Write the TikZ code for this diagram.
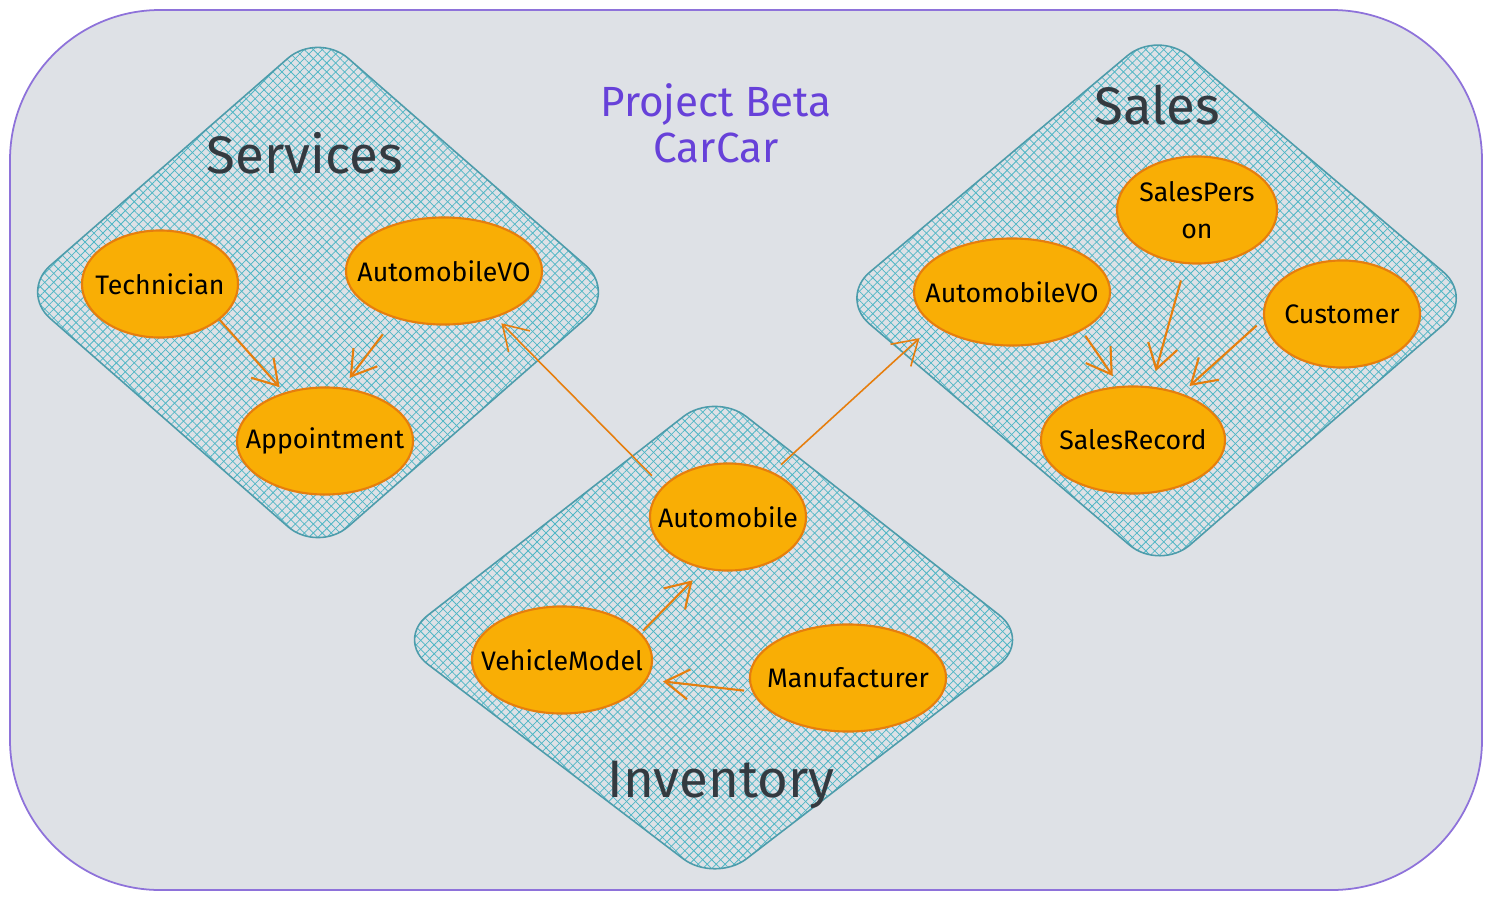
\documentclass[tikz,border=0pt]{standalone}
\usepackage{fontspec}
\setmainfont{Fira Sans}
\usetikzlibrary{shapes.geometric,arrows.meta,patterns.meta}

\definecolor{canvas}{HTML}{DEE1E6}
\definecolor{frameline}{HTML}{8E72DA}
\definecolor{zoneline}{HTML}{4D9CAB}
\definecolor{hatch}{HTML}{4FB6C5}
\definecolor{entityfill}{HTML}{F9AE05}
\definecolor{entityline}{HTML}{E67E0E}
\definecolor{titlegray}{HTML}{343A40}
\definecolor{projectviolet}{HTML}{6741D9}

\begin{document}
\begin{tikzpicture}[x=0.01cm,y=-0.01cm,
    zone/.style={draw=zoneline,line width=0.45pt,rounded corners=0.4cm,
      preaction={pattern={Lines[angle=45,distance=1.8pt,line width=0.22pt]},pattern color=hatch},
      pattern={Lines[angle=-45,distance=1.8pt,line width=0.22pt]},pattern color=hatch},
    entity/.style={ellipse,draw=entityline,fill=entityfill,line width=0.6pt,
      minimum height=1.07cm,inner sep=-0.5cm,font=\fontsize{7.6}{10.5}\selectfont},
    zonetitle/.style={text=titlegray,font=\fontsize{15}{18}\selectfont},
    link/.style={draw=entityline,line width=0.6pt,-{Straight Barb[length=0.24cm,width=0.3cm]}}]
            % frame
            \fill[white] (0,0) rectangle (1491,900);
            \draw[frameline,fill=canvas,line width=0.5pt,rounded corners=1.5cm] (10,10) rectangle (1482,890);
            \node[text=projectviolet,font=\fontsize{12}{13}\selectfont,align=center] (project) at (716,123) {Project Beta\\CarCar};
            % bounded contexts
            \path[zone] (318,32) -- (616,292) -- (318,553) -- (20,292) -- cycle;
            \path[zone] (1158,30) -- (1474,298) -- (1160,571) -- (839,298) -- cycle;
            \path[zone] (715,392) -- (1031,640) -- (715,883) -- (396,640) -- cycle;
            \node[zonetitle] (services) at (305,153) {Services};
            \node[zonetitle] (sales) at (1157,105) {Sales};
            \node[zonetitle] (inventory) at (721,785) {Inventory};
            % services
            \node[entity,minimum width=1.56cm] (tech) at (160,284) {Technician};
            \node[entity,minimum width=1.96cm] (svcvo) at (444,271) {AutomobileVO};
            \node[entity,minimum width=1.76cm] (appt) at (325,441) {Appointment};
            % inventory
            \node[entity,minimum width=1.56cm] (auto) at (728,517) {Automobile};
            \node[entity,minimum width=1.80cm] (model) at (562,660) {VehicleModel};
            \node[entity,minimum width=1.96cm] (maker) at (848,678) {Manufacturer};
            % sales
            \node[entity,minimum width=1.96cm] (salesvo) at (1012,292) {AutomobileVO};
            \node[entity,minimum width=1.60cm,align=center] (person) at (1197,210) {SalesPers\\on};
            \node[entity,minimum width=1.56cm] (customer) at (1342,314) {Customer};
            \node[entity,minimum width=1.84cm] (record) at (1133,440) {SalesRecord};
            % links
            \draw[link,shorten >=0.07cm] (tech.-31) -- (appt.130);
            \draw[link,shorten <=0.2cm,shorten >=0.12cm] (svcvo.-136) -- (appt.72);
            \draw[link,line width=0.45pt,shorten <=0.15cm,shorten >=0.08cm] (auto.155) -- (svcvo.-42);
            \draw[link,line width=0.45pt,shorten <=0.11cm,shorten >=0.19cm] (auto.45) -- (salesvo.-157);
            \draw[link,shorten <=0.03cm,shorten >=0.16cm] (model.19) -- (auto.-115);
            \draw[link,shorten <=0.08cm,shorten >=0.16cm] (maker.188) -- (model.-13);
            \draw[link,shorten <=0.06cm,shorten >=0.12cm] (salesvo.-29) -- (record.104);
            \draw[link,shorten <=0.17cm,shorten >=0.16cm] (person.-102) -- (record.71);
            \draw[link,shorten <=0.09cm,shorten >=0.11cm] (customer.184) -- (record.44);
\end{tikzpicture}
\end{document}
